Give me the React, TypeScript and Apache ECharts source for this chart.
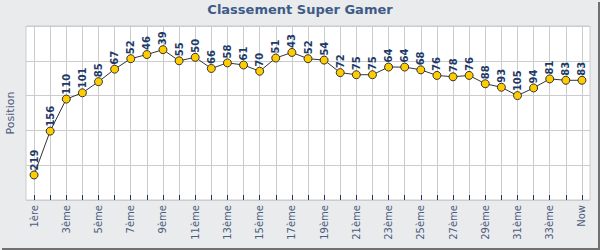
import React, { useEffect, useRef } from "react";
import * as echarts from "echarts";

const categories: string[] = [
  "1ère", "2ème", "3ème", "4ème", "5ème", "6ème", "7ème", "8ème", "9ème", "10ème",
  "11ème", "12ème", "13ème", "14ème", "15ème", "16ème", "17ème", "18ème", "19ème", "20ème",
  "21ème", "22ème", "23ème", "24ème", "25ème", "26ème", "27ème", "28ème", "29ème", "30ème",
  "31ème", "32ème", "33ème", "34ème", "Now",
];

const positions: number[] = [
  219, 156, 110, 101, 85, 67, 52, 46, 39, 55,
  50, 66, 58, 61, 70, 51, 43, 52, 54, 72,
  75, 75, 64, 64, 68, 76, 78, 76, 88, 93,
  105, 94, 81, 83, 83,
];

const yMin = 5;
const yMax = 255;
const yStep = 50;

const FONT = "'DejaVu Sans', Verdana, sans-serif";

const PLOT_LEFT = 26;
const PLOT_RIGHT = 10;
const PLOT_TOP = 26;
const PLOT_BOTTOM = 50;
const PLOT_W = 600 - PLOT_LEFT - PLOT_RIGHT;

export default function App() {
  const ref = useRef<HTMLDivElement>(null);

  useEffect(() => {
    if (!ref.current) return;
    const chart = echarts.init(ref.current, null, { renderer: "svg" });
    const half = PLOT_W / categories.length / 2;
    chart.setOption({
      animation: false,
      backgroundColor: "#eaebed",
      title: {
        text: "Classement Super Gamer",
        left: "center",
        top: 3,
        padding: 0,
        textStyle: {
          fontFamily: FONT,
          fontSize: 13,
          fontWeight: "bold",
          color: "#3e5b88",
        },
      },
      graphic: [
        {
          type: "rect",
          shape: { x: 598, y: 2, width: 2, height: 248 },
          style: { fill: "#707070" },
          silent: true,
        },
        {
          type: "rect",
          shape: { x: 2, y: 248, width: 598, height: 2 },
          style: { fill: "#707070" },
          silent: true,
        },
      ],
      grid: [
        {
          left: PLOT_LEFT,
          right: PLOT_RIGHT,
          top: PLOT_TOP,
          bottom: PLOT_BOTTOM,
          show: true,
          backgroundColor: "#ffffff",
          borderColor: "#cccccc",
          borderWidth: 1,
          outerBoundsMode: "none",
          containLabel: false,
          z: 0,
        },
        {
          left: PLOT_LEFT + half,
          right: PLOT_RIGHT + half,
          top: PLOT_TOP,
          bottom: PLOT_BOTTOM,
          show: false,
          outerBoundsMode: "none",
          containLabel: false,
          z: 1,
        },
      ],
      xAxis: [
        {
          type: "category",
          gridIndex: 0,
          data: categories,
          boundaryGap: true,
          axisLine: { show: false },
          axisTick: { show: false },
          splitLine: { show: false },
          axisLabel: {
            interval: 1,
            rotate: 90,
            margin: 5,
            fontFamily: FONT,
            fontSize: 10,
            color: "#4a5d80",
          },
        },
        {
          type: "value",
          gridIndex: 1,
          min: 0,
          max: categories.length - 1,
          interval: 1,
          z: 1,
          axisLine: { show: false },
          axisLabel: { show: false },
          axisTick: {
            show: true,
            inside: true,
            length: 5,
            lineStyle: { color: "#1f3a66", width: 1 },
          },
          splitLine: { show: true, lineStyle: { color: "#cccccc", width: 1 } },
        },
      ],
      yAxis: [
        {
          type: "value",
          gridIndex: 0,
          inverse: true,
          min: yMin,
          max: yMax,
          interval: yStep,
          name: "Position",
          nameLocation: "middle",
          nameGap: 10,
          nameTextStyle: {
            fontFamily: FONT,
            fontSize: 11,
            color: "#4a5d80",
          },
          axisLine: { show: false },
          axisTick: { show: false },
          axisLabel: { show: false },
          splitLine: { show: true, lineStyle: { color: "#cccccc", width: 1 } },
        },
        {
          type: "value",
          gridIndex: 1,
          min: 0,
          max: 1,
          show: false,
        },
      ],
      series: [
        {
          type: "line",
          xAxisIndex: 0,
          yAxisIndex: 0,
          z: 3,
          data: positions,
          symbol: "circle",
          symbolSize: 8,
          itemStyle: { color: "#ffcc00", borderColor: "#333333", borderWidth: 1 },
          lineStyle: { color: "#333333", width: 1 },
          label: {
            show: true,
            position: "top",
            distance: 0,
            rotate: 90,
            align: "left",
            verticalAlign: "middle",
            fontFamily: FONT,
            fontSize: 10,
            fontWeight: "bold",
            color: "#1d3a68",
          },
        },
      ],
    });
    return () => chart.dispose();
  }, []);

  return (
    <div
      ref={ref}
      style={{ position: "absolute", left: 0, top: 0, width: 600, height: 250 }}
    />
  );
}
